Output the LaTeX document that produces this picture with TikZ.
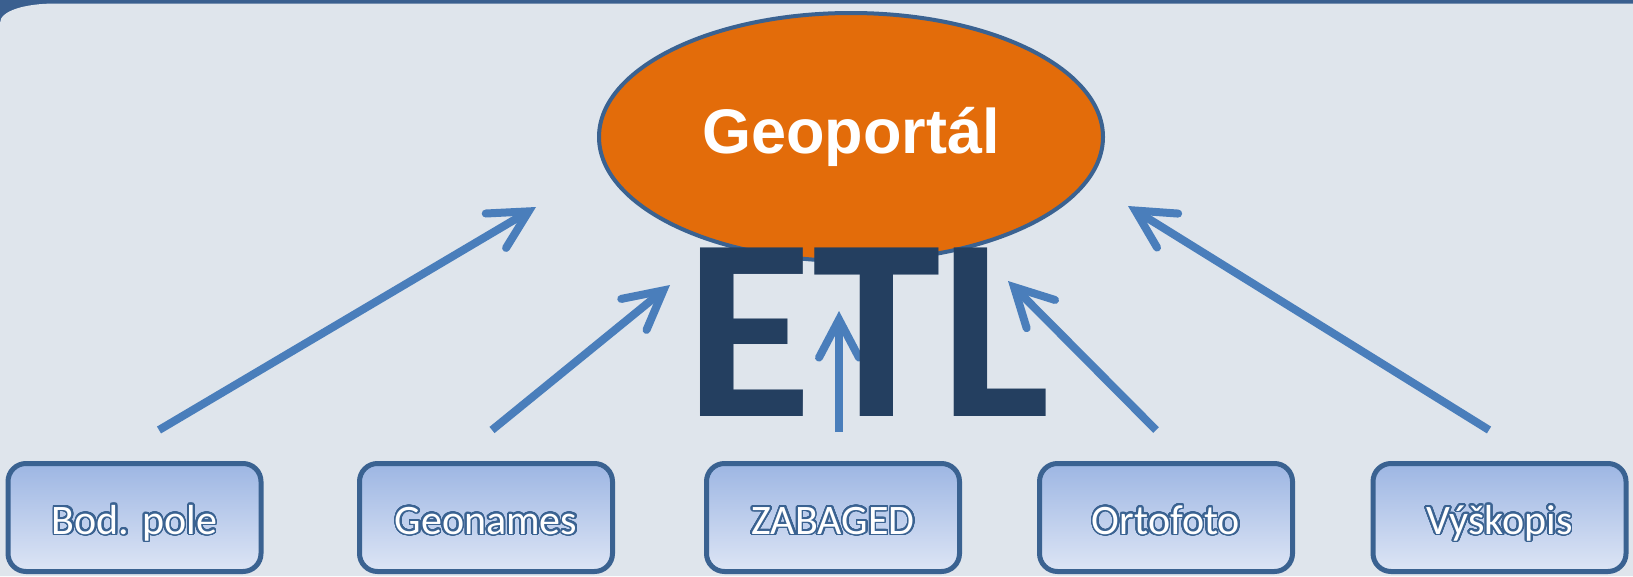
\documentclass[tikz,border=0pt]{standalone}
\usepackage{fontspec}
\setmainfont{Carlito}
\newfontfamily\arialbold{Liberation Sans}[BoldFont={* Bold}]
\newfontfamily\calibribold{Carlito}[BoldFont={* Bold}]
\usepackage{contour}
\contourlength{1.7pt}
\contournumber{40}
\usetikzlibrary{shapes.geometric,arrows.meta}
\definecolor{bgc}{HTML}{DFE5EC}
\definecolor{barc}{HTML}{3A5F8F}
\definecolor{orangec}{HTML}{E36C0A}
\definecolor{edgec}{HTML}{3A6291}
\definecolor{arrowc}{HTML}{4A7EBB}
\definecolor{etlc}{HTML}{243F60}
\definecolor{boxtop}{HTML}{9DB6E3}
\definecolor{boxbot}{HTML}{DDE5F5}
\tikzset{
  srcbox/.style={draw=edgec, line width=5pt, rounded corners=18pt,
    top color=boxtop, bottom color=boxbot, minimum width=253pt,
    minimum height=108pt, inner sep=0pt, text height=43pt, text depth=10pt,
    font=\fontsize{42}{42}\selectfont, text=white},
  flow/.style={draw=arrowc, line width=8pt, line cap=butt,
    -{Straight Barb[length=38pt,width=40pt,line cap=round,line join=miter]}},
}
\newcommand{\boxtxt}[1]{\contour{edgec}{#1}}
\begin{document}
\begin{tikzpicture}[x=1pt,y=-1pt]
\useasboundingbox (0,0) rectangle (1633,576);
% background
\fill[barc] (0,0) rectangle (1633,576);
\fill[bgc] (0,23) .. controls (0,11) and (24,3.5) .. (56,3.5) -- (1633,3.5) -- (1633,576) -- (0,576) -- cycle;
% ellipse
\node[ellipse, fill=orangec, draw=edgec, line width=4pt, minimum width=504pt,
  minimum height=248pt, inner sep=0pt, text=white,
  font=\arialbold\bfseries\fontsize{63}{63}\selectfont] (geo) at (851,137) {Geoportál};
% arrow coordinates
\coordinate (s1) at (159,430); \coordinate (t1) at (536,207);
\coordinate (s2) at (492,430); \coordinate (t2) at (670,285);
\coordinate (s3) at (839,432); \coordinate (t3) at (839,311);
\coordinate (s4) at (1156,430); \coordinate (t4) at (1008,281);
\coordinate (s5) at (1489,430); \coordinate (t5) at (1128,206);
\draw[flow] (s1) -- (t1);
\draw[flow] (s2) -- (t2);
\draw[flow] (s3) -- (t3);
\draw[flow] (s4) -- (t4);
\draw[flow] (s5) -- (t5);
% ETL
\node[anchor=base, inner sep=0pt, text=etlc,
  font=\calibribold\bfseries\fontsize{260}{260}\selectfont] (etl) at (868,416) {ETL};
% source boxes
\node[srcbox] (b1) at (134.5,517.5) {\boxtxt{Bod. pole}};
\node[srcbox] (b2) at (486,517.5) {\boxtxt{Geonames}};
\node[srcbox] (b3) at (833,517.5) {\boxtxt{ZABAGED}};
\node[srcbox] (b4) at (1166,517.5) {\boxtxt{Ortofoto}};
\node[srcbox] (b5) at (1499.5,517.5) {\boxtxt{Výškopis}};
\end{tikzpicture}
\end{document}
